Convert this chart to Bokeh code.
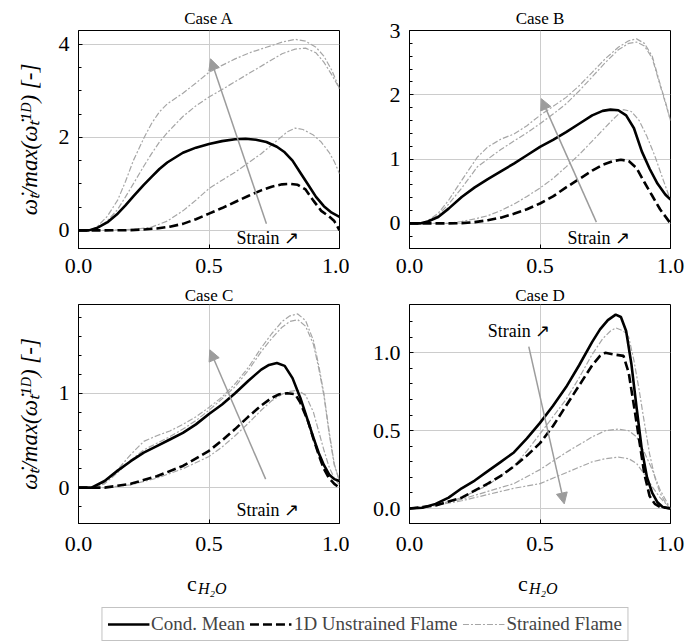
from bokeh.plotting import figure
from bokeh.models import Range1d, FixedTicker, Arrow, NormalHead, Label, Legend, LegendItem
from bokeh.layouts import column, row
from bokeh.embed import file_html
from bokeh.resources import INLINE

SERIF = "Liberation Serif"
GRAY = "#a6a6a6"
ARROW_GRAY = "#9c9c9c"
GRID = "#cccccc"
DASHDOT = "6 2 2 2"

# ---------------- data ----------------
titles = ["Case A", "Case B", "Case C", "Case D"]
y_label = "ω̇ₜ/max(ω̇ₜ¹ᴰ) [-]"
x_label_main = "c"
x_label_sub = "H₂O"
legend_labels = ["Cond. Mean", "1D Unstrained Flame", "Strained Flame"]
strain_text = "Strain ↗"

x_ticks = [0.0, 0.5, 1.0]
x_tick_labels = ["0.0", "0.5", "1.0"]

# Case A
A_yrange = [-0.39, 4.3]
A_yticks = [0, 2, 4]
A_ytick_labels = ["0", "2", "4"]
A_yminor = [0.5, 1.0, 1.5, 2.5, 3.0, 3.5]
A_mean_x = [0, 0.04, 0.07, 0.11, 0.15, 0.18, 0.21, 0.25, 0.28, 0.31, 0.34, 0.4, 0.45, 0.5, 0.55, 0.6, 0.64, 0.68, 0.72, 0.76, 0.79, 0.82, 0.85, 0.88, 0.91, 0.94, 0.97, 1.0]
A_mean_y = [0, 0.0, 0.05, 0.17, 0.36, 0.54, 0.73, 0.98, 1.15, 1.32, 1.46, 1.67, 1.78, 1.86, 1.92, 1.96, 1.97, 1.95, 1.90, 1.80, 1.68, 1.50, 1.24, 0.98, 0.72, 0.52, 0.38, 0.29]
A_1d_x = [0, 0.1, 0.2, 0.25, 0.3, 0.35, 0.4, 0.45, 0.5, 0.55, 0.6, 0.65, 0.7, 0.74, 0.78, 0.81, 0.84, 0.87, 0.9, 0.93, 0.96, 0.98, 1.0]
A_1d_y = [0, 0, 0.005, 0.02, 0.04, 0.08, 0.14, 0.24, 0.36, 0.48, 0.61, 0.74, 0.86, 0.94, 0.99, 1.0, 0.98, 0.88, 0.64, 0.42, 0.3, 0.2, 0.0]
A_s1_x = [0, 0.04, 0.07, 0.11, 0.15, 0.18, 0.21, 0.25, 0.28, 0.31, 0.34, 0.4, 0.45, 0.5, 0.55, 0.6, 0.66, 0.72, 0.78, 0.83, 0.87, 0.91, 0.94, 0.97, 1.0]
A_s1_y = [0, 0.0, 0.07, 0.3, 0.65, 1.05, 1.5, 1.98, 2.3, 2.55, 2.72, 2.95, 3.17, 3.4, 3.55, 3.69, 3.83, 3.94, 4.05, 4.11, 4.07, 3.94, 3.75, 3.45, 3.05]
A_s2_x = [0, 0.04, 0.07, 0.11, 0.15, 0.18, 0.21, 0.25, 0.28, 0.31, 0.34, 0.4, 0.45, 0.5, 0.55, 0.6, 0.66, 0.72, 0.78, 0.83, 0.87, 0.91, 0.94, 0.97, 1.0]
A_s2_y = [0, 0.0, 0.05, 0.2, 0.45, 0.72, 1.0, 1.38, 1.65, 1.9, 2.1, 2.45, 2.68, 2.87, 3.03, 3.2, 3.4, 3.6, 3.8, 3.9, 3.92, 3.82, 3.62, 3.35, 3.05]
A_s3_x = [0, 0.1, 0.15, 0.21, 0.28, 0.34, 0.4, 0.45, 0.5, 0.55, 0.6, 0.65, 0.7, 0.76, 0.8, 0.83, 0.86, 0.9, 0.93, 0.96, 0.98, 1.0]
A_s3_y = [0, 0, 0.01, 0.02, 0.07, 0.2, 0.42, 0.65, 0.9, 1.08, 1.25, 1.45, 1.65, 1.93, 2.12, 2.2, 2.17, 2.05, 1.9, 1.68, 1.48, 1.22]
A_arrow = [0.72, 0.14, 0.506, 3.69]
A_strain_xy = [0.605, -0.17]

# Case B
B_yrange = [-0.39, 3.0]
B_yticks = [0, 1, 2, 3]
B_ytick_labels = ["0", "1", "2", "3"]
B_yminor = [-0.2, 0.2, 0.4, 0.6, 0.8, 1.2, 1.4, 1.6, 1.8, 2.2, 2.4, 2.6, 2.8]
B_mean_x = [0, 0.04, 0.07, 0.11, 0.15, 0.2, 0.25, 0.3, 0.35, 0.4, 0.45, 0.5, 0.55, 0.6, 0.65, 0.7, 0.74, 0.77, 0.8, 0.83, 0.86, 0.89, 0.92, 0.95, 0.98, 1.0]
B_mean_y = [0, 0, 0.03, 0.1, 0.23, 0.41, 0.56, 0.69, 0.81, 0.93, 1.06, 1.19, 1.3, 1.42, 1.55, 1.68, 1.75, 1.77, 1.76, 1.68, 1.48, 1.12, 0.85, 0.62, 0.45, 0.37]
B_1d_x = [0, 0.15, 0.2, 0.25, 0.3, 0.35, 0.4, 0.45, 0.5, 0.55, 0.6, 0.65, 0.7, 0.74, 0.78, 0.81, 0.84, 0.87, 0.9, 0.93, 0.96, 1.0]
B_1d_y = [0, 0, 0.005, 0.02, 0.05, 0.09, 0.15, 0.22, 0.31, 0.42, 0.56, 0.69, 0.82, 0.91, 0.97, 0.99, 0.97, 0.86, 0.64, 0.43, 0.22, 0.0]
B_s1_x = [0, 0.04, 0.07, 0.11, 0.15, 0.2, 0.26, 0.3, 0.35, 0.4, 0.45, 0.5, 0.55, 0.6, 0.65, 0.7, 0.75, 0.8, 0.84, 0.87, 0.9, 0.93, 0.96, 0.98, 1.0]
B_s1_y = [0, 0, 0.04, 0.16, 0.36, 0.67, 1.03, 1.19, 1.31, 1.39, 1.52, 1.68, 1.82, 1.96, 2.14, 2.35, 2.56, 2.74, 2.84, 2.87, 2.8, 2.6, 2.17, 1.9, 1.6]
B_s2_x = [0, 0.04, 0.07, 0.11, 0.15, 0.2, 0.26, 0.3, 0.35, 0.4, 0.45, 0.5, 0.55, 0.6, 0.65, 0.7, 0.75, 0.8, 0.84, 0.87, 0.9, 0.93, 0.96, 0.98, 1.0]
B_s2_y = [0, 0, 0.03, 0.13, 0.3, 0.55, 0.88, 1.0, 1.15, 1.28, 1.41, 1.55, 1.7, 1.86, 2.06, 2.28, 2.5, 2.7, 2.8, 2.82, 2.76, 2.57, 2.15, 1.88, 1.6]
B_s3_x = [0, 0.1, 0.15, 0.2, 0.25, 0.3, 0.35, 0.4, 0.45, 0.5, 0.55, 0.6, 0.65, 0.7, 0.74, 0.78, 0.82, 0.85, 0.88, 0.91, 0.94, 0.97, 1.0]
B_s3_y = [0, 0, 0.0, 0.03, 0.07, 0.12, 0.2, 0.3, 0.42, 0.55, 0.7, 0.88, 1.07, 1.28, 1.45, 1.62, 1.77, 1.74, 1.6, 1.35, 1.05, 0.7, 0.36]
B_arrow = [0.716, 0.02, 0.505, 1.94]
B_strain_xy = [0.605, -0.22]

# Case C
C_yrange = [-0.38, 1.94]
C_yticks = [0, 1]
C_ytick_labels = ["0", "1"]
C_yminor = [-0.2, 0.2, 0.4, 0.6, 0.8, 1.2, 1.4, 1.6, 1.8]
C_mean_x = [0, 0.05, 0.1, 0.15, 0.2, 0.25, 0.3, 0.35, 0.4, 0.45, 0.5, 0.55, 0.6, 0.65, 0.7, 0.73, 0.76, 0.79, 0.82, 0.85, 0.88, 0.9, 0.92, 0.94, 0.96, 0.98, 1.0]
C_mean_y = [0, 0.0, 0.07, 0.18, 0.28, 0.37, 0.44, 0.51, 0.58, 0.67, 0.78, 0.88, 1.0, 1.13, 1.25, 1.3, 1.32, 1.29, 1.16, 0.95, 0.7, 0.53, 0.37, 0.24, 0.14, 0.09, 0.07]
C_1d_x = [0, 0.1, 0.2, 0.3, 0.4, 0.5, 0.55, 0.6, 0.65, 0.7, 0.74, 0.77, 0.8, 0.83, 0.85, 0.88, 0.9, 0.92, 0.94, 0.96, 0.98, 1.0]
C_1d_y = [0, 0.0, 0.04, 0.12, 0.23, 0.39, 0.5, 0.62, 0.75, 0.87, 0.95, 0.99, 1.0, 0.99, 0.9, 0.7, 0.52, 0.35, 0.2, 0.1, 0.04, 0.0]
C_s1_x = [0, 0.05, 0.1, 0.15, 0.2, 0.25, 0.3, 0.35, 0.4, 0.45, 0.5, 0.55, 0.6, 0.65, 0.7, 0.74, 0.78, 0.81, 0.84, 0.87, 0.9, 0.92, 0.94, 0.96, 0.98, 1.0]
C_s1_y = [0, 0.0, 0.05, 0.19, 0.35, 0.49, 0.55, 0.6, 0.67, 0.75, 0.85, 0.96, 1.1, 1.27, 1.48, 1.63, 1.76, 1.82, 1.84, 1.77, 1.56, 1.3, 1.0, 0.6, 0.25, 0.07]
C_s2_x = [0, 0.05, 0.1, 0.15, 0.2, 0.25, 0.3, 0.35, 0.4, 0.45, 0.5, 0.55, 0.6, 0.65, 0.7, 0.74, 0.78, 0.81, 0.84, 0.87, 0.9, 0.92, 0.94, 0.96, 0.98, 1.0]
C_s2_y = [0, 0.0, 0.04, 0.16, 0.29, 0.4, 0.47, 0.54, 0.62, 0.71, 0.82, 0.94, 1.07, 1.24, 1.44, 1.58, 1.7, 1.76, 1.78, 1.71, 1.52, 1.27, 0.98, 0.58, 0.24, 0.07]
C_s3_x = [0, 0.1, 0.2, 0.3, 0.4, 0.5, 0.55, 0.6, 0.65, 0.7, 0.74, 0.78, 0.81, 0.84, 0.87, 0.9, 0.92, 0.94, 0.96, 0.98, 1.0]
C_s3_y = [0, 0.0, 0.03, 0.1, 0.2, 0.33, 0.43, 0.55, 0.68, 0.82, 0.92, 0.99, 1.02, 1.03, 0.98, 0.8, 0.6, 0.4, 0.22, 0.1, 0.03]
C_arrow = [0.717, 0.09, 0.503, 1.46]
C_strain_xy = [0.605, -0.24]

# Case D
D_yrange = [-0.096, 1.31]
D_yticks = [0.0, 0.5, 1.0]
D_ytick_labels = ["0.0", "0.5", "1.0"]
D_yminor = [0.1, 0.2, 0.3, 0.4, 0.6, 0.7, 0.8, 0.9, 1.1, 1.2]
D_mean_x = [0, 0.05, 0.1, 0.15, 0.2, 0.25, 0.3, 0.35, 0.4, 0.45, 0.5, 0.55, 0.6, 0.65, 0.7, 0.73, 0.76, 0.79, 0.81, 0.83, 0.85, 0.87, 0.89, 0.91, 0.93, 0.95, 0.97, 1.0]
D_mean_y = [0, 0.005, 0.03, 0.07, 0.13, 0.18, 0.24, 0.3, 0.36, 0.45, 0.55, 0.66, 0.78, 0.92, 1.07, 1.15, 1.21, 1.245, 1.23, 1.14, 0.93, 0.65, 0.38, 0.2, 0.1, 0.04, 0.01, 0.0]
D_1d_x = [0, 0.1, 0.2, 0.3, 0.35, 0.4, 0.45, 0.5, 0.55, 0.6, 0.65, 0.7, 0.73, 0.75, 0.78, 0.82, 0.84, 0.86, 0.88, 0.9, 0.92, 0.94, 0.96, 1.0]
D_1d_y = [0, 0.02, 0.07, 0.16, 0.21, 0.27, 0.34, 0.42, 0.53, 0.66, 0.79, 0.92, 0.98, 1.0, 0.99, 0.98, 0.87, 0.66, 0.44, 0.22, 0.08, 0.03, 0.01, 0.0]
D_s1_x = [0, 0.1, 0.2, 0.3, 0.4, 0.45, 0.5, 0.55, 0.6, 0.65, 0.7, 0.74, 0.77, 0.79, 0.82, 0.84, 0.86, 0.88, 0.9, 0.92, 0.94, 0.96, 0.98, 1.0]
D_s1_y = [0, 0.02, 0.07, 0.15, 0.27, 0.37, 0.48, 0.59, 0.7, 0.84, 0.99, 1.09, 1.14, 1.16, 1.14, 1.1, 0.95, 0.76, 0.55, 0.35, 0.2, 0.1, 0.04, 0.0]
D_s2_x = [0, 0.1, 0.2, 0.3, 0.4, 0.5, 0.6, 0.7, 0.75, 0.8, 0.84, 0.87, 0.9, 0.93, 0.96, 1.0]
D_s2_y = [0, 0.02, 0.06, 0.11, 0.16, 0.25, 0.36, 0.46, 0.5, 0.51, 0.5, 0.46, 0.36, 0.25, 0.12, 0.0]
D_s3_x = [0, 0.1, 0.2, 0.3, 0.4, 0.5, 0.6, 0.7, 0.75, 0.8, 0.84, 0.87, 0.9, 0.93, 0.96, 1.0]
D_s3_y = [0, 0.02, 0.05, 0.09, 0.13, 0.16, 0.23, 0.3, 0.32, 0.33, 0.32, 0.29, 0.22, 0.14, 0.07, 0.0]
D_arrow = [0.457, 1.04, 0.593, 0.03]
D_strain_xy = [0.30, 1.14]

# ---------------- layout geometry (pixels) ----------------
FRAME_W = 261
LEFT_BORDER, LEFT_RIGHT_BORDER = 78, 10
RIGHT_BORDER_L, RIGHT_BORDER_R = 60, 17
LEFT_W = LEFT_BORDER + FRAME_W + LEFT_RIGHT_BORDER          # 349
RIGHT_W = RIGHT_BORDER_L + FRAME_W + RIGHT_BORDER_R         # 338
STRIP_H = 79


def make_panel(title, mean, oned, strained, yrange, yticks, ylabels, yminor,
               arrow, strain_xy, is_left, is_bottom):
    width = LEFT_W if is_left else RIGHT_W
    bl, br = (LEFT_BORDER, LEFT_RIGHT_BORDER) if is_left else (RIGHT_BORDER_L, RIGHT_BORDER_R)
    if is_bottom:
        bt, fh, bb = 20, 220, 40
    else:
        bt, fh, bb = 30, 218, 35
    p = figure(width=width, height=bt + fh + bb, x_range=Range1d(0, 1),
               y_range=Range1d(yrange[0], yrange[1]),
               output_backend="svg", toolbar_location=None,
               min_border_left=bl, min_border_right=br,
               min_border_top=bt, min_border_bottom=bb,
               background_fill_color="white", border_fill_color="white")
    p.title.text = title
    p.title.text_font = SERIF
    p.title.text_font_size = "17px"
    p.title.text_font_style = "normal"
    p.title.text_color = "black"
    p.title.align = "center"
    p.title.standoff = 0 if is_bottom else 5
    p.outline_line_color = "black"
    p.outline_line_width = 1
    p.outline_line_alpha = 1

    p.xaxis.ticker = FixedTicker(ticks=x_ticks, minor_ticks=[])
    p.xaxis.major_label_overrides = {t: l for t, l in zip(x_ticks, x_tick_labels)}
    p.yaxis.ticker = FixedTicker(ticks=yticks, minor_ticks=yminor)
    p.yaxis.major_label_overrides = {t: l for t, l in zip(yticks, ylabels)}
    for ax in (p.xaxis[0], p.yaxis[0]):
        ax.axis_line_color = "black"
        ax.major_tick_line_color = "black"
        ax.minor_tick_line_color = "black"
        ax.major_tick_in = 4
        ax.major_tick_out = 0
        ax.minor_tick_in = 3
        ax.minor_tick_out = 0
        ax.major_label_text_font = SERIF
        ax.major_label_text_font_size = "22px"
        ax.major_label_text_color = "black"
    p.xaxis.major_label_standoff = 13 if is_bottom else 10
    p.yaxis.major_label_standoff = 9
    if is_left:
        p.yaxis.axis_label = y_label
        p.yaxis.axis_label_text_font = SERIF
        p.yaxis.axis_label_text_font_size = "23px"
        p.yaxis.axis_label_text_font_style = "italic"
        p.yaxis.axis_label_text_color = "black"
        p.yaxis.axis_label_standoff = 14
    p.xgrid.grid_line_color = GRID
    p.ygrid.grid_line_color = GRID
    p.xgrid.grid_line_width = 1
    p.ygrid.grid_line_width = 1

    for sx, sy in strained:
        p.line(sx, sy, line_color=GRAY, line_width=1.2, line_dash=DASHDOT)
    p.line(oned[0], oned[1], line_color="black", line_width=2.6, line_dash="9 4")
    p.line(mean[0], mean[1], line_color="black", line_width=2.6)

    p.add_layout(Arrow(end=NormalHead(size=11, fill_color=ARROW_GRAY, line_color=ARROW_GRAY),
                       x_start=arrow[0], y_start=arrow[1], x_end=arrow[2], y_end=arrow[3],
                       line_color=ARROW_GRAY, line_width=1.5))
    p.add_layout(Label(x=strain_xy[0], y=strain_xy[1], text=strain_text,
                       text_font=SERIF, text_font_size="18px", text_color="black",
                       text_align="left", text_baseline="middle"))
    return p


pA = make_panel(titles[0], (A_mean_x, A_mean_y), (A_1d_x, A_1d_y),
                [(A_s1_x, A_s1_y), (A_s2_x, A_s2_y), (A_s3_x, A_s3_y)],
                A_yrange, A_yticks, A_ytick_labels, A_yminor, A_arrow, A_strain_xy, True, False)
pB = make_panel(titles[1], (B_mean_x, B_mean_y), (B_1d_x, B_1d_y),
                [(B_s1_x, B_s1_y), (B_s2_x, B_s2_y), (B_s3_x, B_s3_y)],
                B_yrange, B_yticks, B_ytick_labels, B_yminor, B_arrow, B_strain_xy, False, False)
pC = make_panel(titles[2], (C_mean_x, C_mean_y), (C_1d_x, C_1d_y),
                [(C_s1_x, C_s1_y), (C_s2_x, C_s2_y), (C_s3_x, C_s3_y)],
                C_yrange, C_yticks, C_ytick_labels, C_yminor, C_arrow, C_strain_xy, True, True)
pD = make_panel(titles[3], (D_mean_x, D_mean_y), (D_1d_x, D_1d_y),
                [(D_s1_x, D_s1_y), (D_s2_x, D_s2_y), (D_s3_x, D_s3_y)],
                D_yrange, D_yticks, D_ytick_labels, D_yminor, D_arrow, D_strain_xy, False, True)

# bottom strip: x-axis titles + legend; its frame spans page pixels 42..687 horizontally
STRIP_LEFT = 42
TOTAL_W = LEFT_W + RIGHT_W
strip = figure(width=TOTAL_W, height=STRIP_H, x_range=Range1d(STRIP_LEFT, TOTAL_W),
               y_range=Range1d(0, STRIP_H),
               output_backend="svg", toolbar_location=None,
               x_axis_location=None, y_axis_location=None,
               min_border_left=STRIP_LEFT, min_border_right=0, min_border_top=0, min_border_bottom=0,
               background_fill_color="white", border_fill_color="white")
strip.grid.visible = False
strip.outline_line_color = None

frame_centres = [LEFT_BORDER + FRAME_W / 2, LEFT_W + RIGHT_BORDER_L + FRAME_W / 2]
for cx in frame_centres:
    strip.add_layout(Label(x=cx - 22, y=59, text=x_label_main, text_font=SERIF,
                           text_font_size="22px", text_align="left", text_baseline="middle",
                           text_color="black"))
    strip.add_layout(Label(x=cx - 11, y=54, text=x_label_sub, text_font=SERIF,
                           text_font_size="16px", text_font_style="italic",
                           text_align="left", text_baseline="middle", text_color="black"))

# legend renderers reuse panel A data, kept outside the strip's visible y-range
r1 = strip.line(A_mean_x, A_mean_y, line_color="black", line_width=2.6)
r2 = strip.line(A_1d_x, A_1d_y, line_color="black", line_width=2.6, line_dash="9 4")
r3 = strip.line(A_s1_x, A_s1_y, line_color=GRAY, line_width=1.2, line_dash=DASHDOT)
for r in (r1, r2, r3):
    r.visible = True
legend = Legend(items=[LegendItem(label=legend_labels[0], renderers=[r1]),
                       LegendItem(label=legend_labels[1], renderers=[r2]),
                       LegendItem(label=legend_labels[2], renderers=[r3])],
                orientation="horizontal", location="bottom_center",
                label_text_font=SERIF, label_text_font_size="19px",
                label_height=20, glyph_height=20,
                glyph_width=42, label_standoff=2, spacing=5, padding=5, margin=1,
                border_line_color="#888888", border_line_width=1,
                background_fill_color="white", background_fill_alpha=1)
strip.add_layout(legend, "center")

layout = column(row(pA, pB), row(pC, pD), strip)
open("out.html", "w").write(file_html(layout, INLINE))
